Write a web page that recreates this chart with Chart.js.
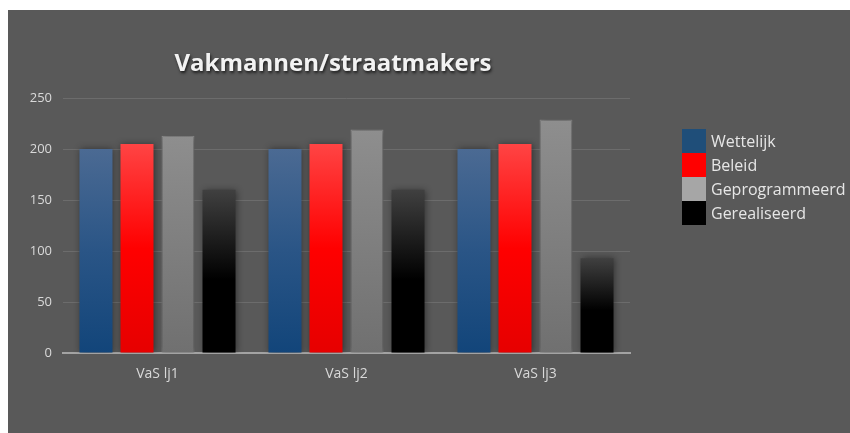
<!DOCTYPE html>
<html>
<head>
<meta charset="utf-8">
<script src="https://cdn.jsdelivr.net/npm/chart.js@4/dist/chart.umd.min.js"></script>
<style>
  html, body { margin: 0; padding: 0; background: #fff; }
  #wrap { position: absolute; left: 8px; top: 10px; width: 842px; height: 423px; background: #595959; overflow: hidden; }
  #chart { position: absolute; left: 0; top: 0; }
  #title { position: absolute; left: 0; width: 650px; top: 35px; text-align: center;
    font: bold 24px "Open Sans", sans-serif; color: #f2f2f2;
    text-shadow: 1px 2px 3px rgba(0,0,0,0.7); white-space: nowrap; }
  #legend { position: absolute; left: 674px; top: 119px; font: 16px "Open Sans", sans-serif; color: #e6e6e6; }
  #legend .item { height: 24px; display: flex; align-items: center; }
  #legend .box { width: 24px; height: 24px; margin-right: 5px; }
</style>
</head>
<body>
<div id="wrap">
  <canvas id="chart" width="842" height="423"></canvas>
  <div id="title">Vakmannen/straatmakers</div>
  <div id="legend"></div>
</div>
<script>
const categories = ['VaS lj1', 'VaS lj2', 'VaS lj3'];
const seriesNames = ['Wettelijk', 'Beleid', 'Geprogrammeerd', 'Gerealiseerd'];
const wettelijk = [200, 200, 200];
const beleid = [205, 205, 205];
const geprogrammeerd = [213, 219, 229];
const gerealiseerd = [160, 160, 93];
const yTicks = [0, 50, 100, 150, 200, 250];

const legendColors = ['#1f4e79', '#ff0000', '#a6a6a6', '#000000'];
// gradient stops per series, top of bar -> base
const gradStops = [
  [[0, '#4b6a93'], [0.5, '#2a5586'], [1, '#12457a']],
  [[0, '#ff4444'], [0.5, '#ff0000'], [1, '#e60000']],
  [[0, '#8e8e8e'], [1, '#707070']],
  [[0, '#404040'], [0.55, '#000000'], [1, '#000000']]
];

function barFill(i) {
  return function (ctx) {
    const chart = ctx.chart;
    if (!chart.chartArea || ctx.parsed == null) return legendColors[i];
    const y = chart.scales.y;
    const top = y.getPixelForValue(ctx.parsed.y);
    const base = y.getPixelForValue(0);
    const g = chart.ctx.createLinearGradient(0, top, 0, base);
    gradStops[i].forEach(s => g.addColorStop(s[0], s[1]));
    return g;
  };
}

const allSeries = [wettelijk, beleid, geprogrammeerd, gerealiseerd];

const shadowPlugin = {
  id: 'barShadow',
  beforeDatasetsDraw(chart) {
    const c = chart.ctx;
    c.save();
    c.shadowColor = 'rgba(0,0,0,0.45)';
    c.shadowBlur = 7;
    c.shadowOffsetX = 1;
    c.shadowOffsetY = 0;
  },
  afterDatasetsDraw(chart) {
    chart.ctx.restore();
  }
};

const chart = new Chart(document.getElementById('chart').getContext('2d'), {
  type: 'bar',
  data: {
    labels: categories,
    datasets: allSeries.map((d, i) => ({
      label: seriesNames[i],
      data: d,
      backgroundColor: barFill(i),
      borderColor: i === 2 ? '#9a9a9a' : 'rgba(0,0,0,0)',
      borderWidth: i === 2 ? 1 : 0,
      barPercentage: 0.805,
      categoryPercentage: 0.868
    }))
  },
  plugins: [shadowPlugin],
  options: {
    responsive: false,
    animation: false,
    devicePixelRatio: 1,
    layout: { padding: { top: 88, right: 220, left: 0, bottom: 0 } },
    plugins: { legend: { display: false }, title: { display: false }, tooltip: { enabled: false } },
    scales: {
      x: {
        grid: { display: false, drawTicks: false },
        border: { display: true, color: '#a3a3a3', width: 2 },
        ticks: { color: '#d9d9d9', font: { family: 'Open Sans', size: 14 }, padding: 13 },
        afterFit(s) { s.height = 80; }
      },
      y: {
        min: 0,
        max: 250,
        afterBuildTicks(s) { s.ticks = yTicks.map(v => ({ value: v })); },
        grid: { color: '#6c6c6c', lineWidth: 1, drawTicks: false },
        border: { display: false },
        ticks: { color: '#d9d9d9', font: { family: 'Open Sans', size: 13 }, padding: 11 },
        afterFit(s) { s.width = 55; }
      }
    }
  }
});

const legendEl = document.getElementById('legend');
seriesNames.forEach((name, i) => {
  const item = document.createElement('div');
  item.className = 'item';
  const box = document.createElement('div');
  box.className = 'box';
  box.style.background = legendColors[i];
  const txt = document.createElement('span');
  txt.textContent = name;
  item.appendChild(box);
  item.appendChild(txt);
  legendEl.appendChild(item);
});
</script>
</body>
</html>
